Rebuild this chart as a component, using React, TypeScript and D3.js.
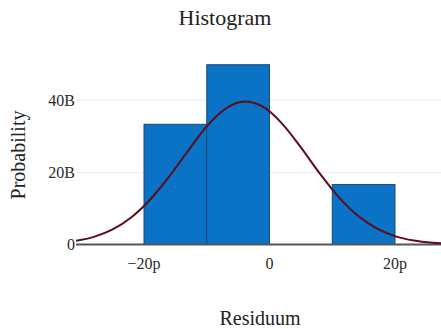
import React from "react";
import * as d3 from "d3";

// Histogram bins (residuum in picoseconds units "p"), density in billions "B"
const binStarts = [-20, -10, 10];
const binEnds = [-10, 0, 20];
const binDensity = [33.3, 49.8, 16.6];

// Fitted normal curve (x in p, y in B)
const curveX = [-31, -28, -25, -22, -19, -16, -13, -10, -7, -4, -1, 2, 5, 8, 11, 14, 17, 20, 23, 26, 28];
const curveY = [0.98, 2.12, 4.19, 7.56, 12.47, 18.8, 25.9, 32.7, 37.6, 39.6, 38.1, 33.5, 26.9, 19.7, 13.2, 8.1, 4.55, 2.33, 1.09, 0.47, 0.25];

const xTickValues = [-20, 0, 20];
const xTickLabels = ["\u221220p", "0", "20p"];
const yTickValues = [0, 20, 40];
const yTickLabels = ["0", "20B", "40B"];

const W = 441;
const H = 329;

export default function App() {
  const x = d3.scaleLinear().domain([-20, 20]).range([144, 395]);
  const y = d3.scaleLinear().domain([0, 20]).range([244.5, 172.3]);
  const left = 76;
  const right = W;

  const pts: [number, number][] = curveX.map((v, i) => [v, curveY[i]]);
  const line = d3
    .line<[number, number]>()
    .x((d) => x(d[0]))
    .y((d) => y(d[1]))
    .curve(d3.curveMonotoneX);

  const font = "'Liberation Serif', 'DejaVu Serif', serif";

  return (
    <svg
      width={W}
      height={H}
      style={{ position: "absolute", left: 0, top: 0, background: "#fff" }}
      fontFamily={font}
    >
      <defs>
        <clipPath id="plotclip">
          <rect x={left} y={0} width={right - left} height={H} />
        </clipPath>
      </defs>
      <text x={225} y={25} textAnchor="middle" fontSize={22} fill="#222">
        Histogram
      </text>
      {yTickValues.slice(1).map((v) => (
        <line key={v} x1={left} x2={right} y1={y(v)} y2={y(v)} stroke="#ebebeb" strokeWidth={1} />
      ))}
      {yTickValues.map((v, i) => (
        <text key={v} x={left - 1} y={y(v)} dy="0.35em" textAnchor="end" fontSize={16} fill="#2a2a2a">
          {yTickLabels[i]}
        </text>
      ))}
      {binStarts.map((s, i) => (
        <rect
          key={i}
          x={x(s)}
          y={y(binDensity[i])}
          width={x(binEnds[i]) - x(s)}
          height={y(0) - y(binDensity[i])}
          fill="#0b73c6"
          stroke="#1b4878"
          strokeWidth={1}
        />
      ))}
      <line x1={left} x2={right} y1={y(0)} y2={y(0)} stroke="#555" strokeWidth={2} />
      <path
        d={line(pts) || ""}
        fill="none"
        stroke="#5e0b1c"
        strokeWidth={2}
        clipPath="url(#plotclip)"
      />
      {xTickValues.map((v, i) => (
        <text key={v} x={x(v)} y={269} textAnchor="middle" fontSize={16} fill="#2a2a2a">
          {xTickLabels[i]}
        </text>
      ))}
      <text x={260} y={325} textAnchor="middle" fontSize={20} fill="#222">
        Residuum
      </text>
      <text
        transform={`translate(25, 155) rotate(-90)`}
        textAnchor="middle"
        fontSize={20}
        fill="#222"
      >
        Probability
      </text>
    </svg>
  );
}
